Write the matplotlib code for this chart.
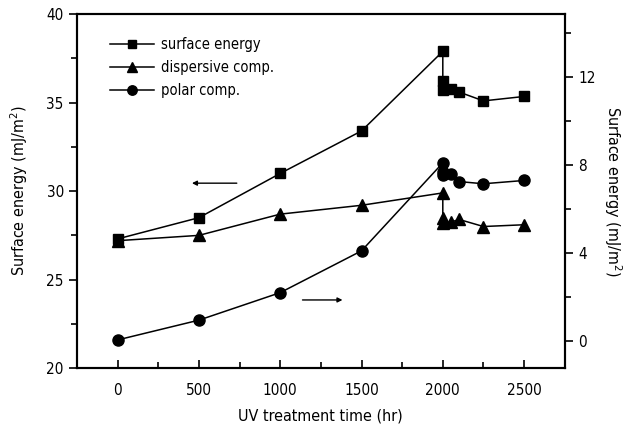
import matplotlib
matplotlib.use("Agg")
import matplotlib.pyplot as plt
from matplotlib.ticker import MultipleLocator

plt.rcParams['font.family'] = ['DejaVu Sans']
plt.rcParams['font.stretch'] = 'condensed'

time_hr = [0, 500, 1000, 1500, 2000, 2000, 2000, 2050, 2100, 2250, 2500]
surface = [27.3, 28.5, 31.0, 33.4, 37.9, 36.2, 35.7, 35.8, 35.6, 35.1, 35.35]
dispersive = [27.2, 27.5, 28.7, 29.2, 29.9, 28.5, 28.2, 28.25, 28.4, 28.0, 28.1]
polar = [0.05, 0.95, 2.2, 4.1, 8.1, 7.7, 7.55, 7.6, 7.25, 7.15, 7.3]

fig = plt.figure(figsize=(6.31, 4.30), dpi=100)
ax = fig.add_axes([0.122, 0.144, 0.773, 0.823])
ax2 = ax.twinx()

l1, = ax.plot(time_hr, surface, '-', color='black', marker='s', ms=7.5, lw=1.1, label='surface energy')
l2, = ax.plot(time_hr, dispersive, '-', color='black', marker='^', ms=8.5, lw=1.1, label='dispersive comp.')
l3, = ax2.plot(time_hr, polar, '-', color='black', marker='o', ms=8, lw=1.1, label='polar comp.')

ax.set_xlim(-250, 2750)
ax.set_ylim(20, 40)
ax2.set_ylim(-1.23, 14.86)

ax.xaxis.set_major_locator(MultipleLocator(500))
ax.xaxis.set_minor_locator(MultipleLocator(250))
ax.yaxis.set_major_locator(MultipleLocator(5))
ax.yaxis.set_minor_locator(MultipleLocator(2.5))
ax2.yaxis.set_major_locator(MultipleLocator(4))
ax2.yaxis.set_minor_locator(MultipleLocator(2))

ax.tick_params(axis='x', which='both', direction='in', labelsize=11, width=1.2)
ax.tick_params(axis='x', which='major', length=6, pad=11)
ax.tick_params(axis='x', which='minor', length=4)
ax.tick_params(axis='y', which='both', direction='out', labelsize=11, width=1.2)
ax.tick_params(axis='y', which='major', length=6)
ax.tick_params(axis='y', which='minor', length=4)
ax2.tick_params(axis='y', which='both', direction='out', labelsize=11, width=1.2)
ax2.tick_params(axis='y', which='major', length=6)
ax2.tick_params(axis='y', which='minor', length=4)

for a in (ax, ax2):
    for s in a.spines.values():
        s.set_linewidth(1.5)

ax.set_xlabel('UV treatment time (hr)', fontsize=11.5, labelpad=7)
ax.set_ylabel('Surface energy (mJ/m$^2$)', fontsize=11.5, labelpad=12)
ax2.set_ylabel('Surface energy (mJ/m$^2$)', fontsize=11.5, rotation=270, labelpad=20)

# arrows indicating axes
ax.annotate('', xy=(440, 30.45), xytext=(750, 30.45),
            arrowprops=dict(arrowstyle='-|>', color='black', lw=1.0, mutation_scale=7))
ax.annotate('', xy=(1400, 23.85), xytext=(1120, 23.85),
            arrowprops=dict(arrowstyle='-|>', color='black', lw=1.0, mutation_scale=7))

leg = ax.legend(handles=[l1, l2, l3], loc='upper left', bbox_to_anchor=(0.05, 0.96),
                frameon=False, fontsize=10.5, handlelength=3.0, handletextpad=0.5,
                labelspacing=0.55, borderaxespad=0.2, markerscale=0.85)

fig.savefig('out.png', dpi=100)
